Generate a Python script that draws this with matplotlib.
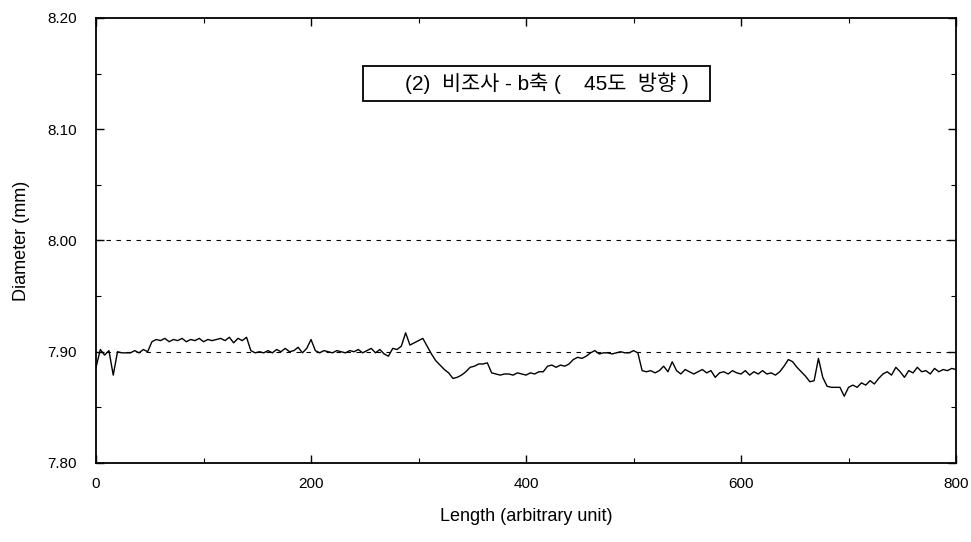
#!/usr/bin/env python3
"""
Diameter profile along length, (2) 비조사 - b축 (45도 방향).
Output: out.png (971x542)
"""

import matplotlib
matplotlib.use("Agg")
import matplotlib.pyplot as plt
import matplotlib.ticker as ticker
from matplotlib.patches import Rectangle
import numpy as np

# sampling grid of the trace (every 4 units, 0..800)
LENGTH_STEP = 4

# diameter (mm), segment by segment
diam_0_48 = [7.886, 7.902, 7.897, 7.901, 7.879, 7.900, 7.899, 7.899, 7.899,
             7.901, 7.899, 7.902, 7.900]
diam_52_140 = [7.909, 7.911, 7.910, 7.912, 7.909, 7.911, 7.910, 7.912, 7.909,
               7.911, 7.910, 7.912, 7.909, 7.911, 7.910, 7.911, 7.912, 7.910,
               7.913, 7.908, 7.912, 7.910, 7.913]
diam_144_196 = [7.901, 7.899, 7.900, 7.899, 7.901, 7.899, 7.902, 7.900, 7.903,
                7.900, 7.901, 7.904, 7.899, 7.903]
diam_200_204 = [7.911, 7.901]
diam_208_280 = [7.899, 7.901, 7.900, 7.899, 7.901, 7.900, 7.899, 7.901, 7.900,
                7.902, 7.899, 7.901, 7.903, 7.899, 7.902, 7.898, 7.896, 7.903,
                7.902]
diam_284_308 = [7.905, 7.917, 7.906, 7.908, 7.910, 7.912, 7.905]
diam_312_364 = [7.898, 7.892, 7.888, 7.884, 7.881, 7.876, 7.877, 7.879, 7.882,
                7.886, 7.887, 7.889, 7.889, 7.890]
diam_368_416 = [7.881, 7.880, 7.879, 7.880, 7.880, 7.879, 7.881, 7.880, 7.879,
                7.881, 7.880, 7.882, 7.882]
diam_420_440 = [7.887, 7.888, 7.886, 7.888, 7.887, 7.889]
diam_444_456 = [7.893, 7.895, 7.894, 7.896]
diam_460_504 = [7.899, 7.901, 7.898, 7.899, 7.899, 7.898, 7.899, 7.900, 7.899,
                7.899, 7.901, 7.899]
diam_508_632 = [7.883, 7.882, 7.883, 7.881, 7.883, 7.887, 7.882, 7.891, 7.883,
                7.880, 7.884, 7.882, 7.880, 7.882, 7.884, 7.881, 7.883, 7.877,
                7.881, 7.882, 7.880, 7.883, 7.881, 7.880, 7.883, 7.879, 7.882,
                7.880, 7.883, 7.880, 7.881, 7.879]
diam_636_668 = [7.882, 7.887, 7.893, 7.891, 7.886, 7.882, 7.878, 7.873, 7.874]
diam_672_712 = [7.894, 7.877, 7.869, 7.868, 7.868, 7.868, 7.860, 7.868, 7.870,
                7.868, 7.872]
diam_716_748 = [7.870, 7.874, 7.871, 7.876, 7.880, 7.882, 7.879, 7.886, 7.882]
diam_752_800 = [7.877, 7.883, 7.881, 7.886, 7.882, 7.883, 7.880, 7.885, 7.882,
                7.884, 7.883, 7.885, 7.884]

REF_LINES = [8.00, 7.90]
TITLE = "(2)  비조사 - b축 (    45도  방향 )"

FONT = ["Liberation Sans", "Noto Sans CJK KR", "DejaVu Sans"]

RC = {
    "font.family":       FONT,
    "font.size":         11,
    "axes.linewidth":    1.3,
    "xtick.direction":   "in",
    "ytick.direction":   "in",
    "xtick.top":         True,
    "ytick.right":       True,
    "xtick.major.size":  6,
    "ytick.major.size":  6,
    "xtick.minor.size":  3.5,
    "ytick.minor.size":  3.5,
    "xtick.major.width": 1.0,
    "ytick.major.width": 1.0,
    "xtick.minor.width": 0.8,
    "ytick.minor.width": 0.8,
}


def main() -> None:
    plt.rcParams.update(RC)

    diameter = np.array(
        diam_0_48 + diam_52_140 + diam_144_196 + diam_200_204 + diam_208_280
        + diam_284_308 + diam_312_364 + diam_368_416 + diam_420_440
        + diam_444_456 + diam_460_504 + diam_508_632 + diam_636_668
        + diam_672_712 + diam_716_748 + diam_752_800
    )
    length = np.arange(len(diameter)) * LENGTH_STEP

    fig = plt.figure(figsize=(9.71, 5.42), dpi=100)
    ax = fig.add_axes([0.0989, 0.1458, 0.8857, 0.8210])

    for y in REF_LINES:
        ax.axhline(y, color="black", lw=0.8, ls=(0, (4, 5)), zorder=1)

    ax.plot(length, diameter, color="black", lw=1.0, zorder=2)

    ax.set_xlim(0, 800)
    ax.set_ylim(7.80, 8.20)
    ax.xaxis.set_major_locator(ticker.MultipleLocator(200))
    ax.xaxis.set_minor_locator(ticker.MultipleLocator(100))
    ax.yaxis.set_major_locator(ticker.MultipleLocator(0.1))
    ax.yaxis.set_minor_locator(ticker.MultipleLocator(0.05))
    ax.yaxis.set_major_formatter(ticker.FormatStrFormatter("%.2f"))
    ax.tick_params(axis="x", which="both", pad=10, labelsize=11)
    ax.tick_params(axis="y", which="both", pad=14, labelsize=11)

    ax.set_xlabel("Length (arbitrary unit)", fontsize=13, labelpad=12)
    ax.set_ylabel("Diameter (mm)", fontsize=13, labelpad=12)

    # boxed caption
    ax.add_patch(Rectangle((0.310, 0.813), 0.404, 0.079,
                           transform=ax.transAxes, fill=False,
                           edgecolor="black", lw=1.3, zorder=3))
    ax.text(0.359, 0.853, TITLE, transform=ax.transAxes,
            ha="left", va="center", fontsize=15, family=FONT, zorder=4)

    fig.savefig("out.png", dpi=100)
    plt.close(fig)


if __name__ == "__main__":
    main()
